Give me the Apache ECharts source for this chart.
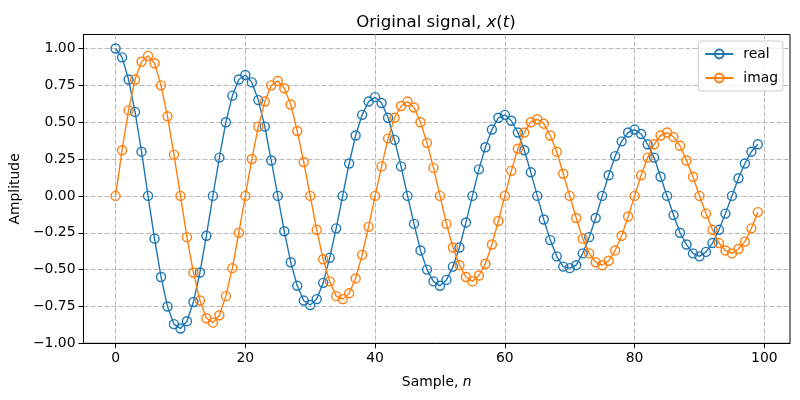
<!DOCTYPE html>
<html>
<head>
<meta charset="utf-8">
<style>html,body{margin:0;padding:0;background:#fff}#main{width:800px;height:400px}</style>
<script src="https://cdn.jsdelivr.net/npm/echarts@6/dist/echarts.min.js"></script>
</head>
<body>
<div id="main"></div>
<script>
// values, one per sample
var realValues = [
  1.00,0.94,0.79,0.57,0.30,0.00,-0.29,-0.55,-0.75,-0.87,-0.90,-0.85,-0.72,-0.52,-0.27,0.00,0.26,0.50,0.68,0.79,
  0.82,0.77,0.65,0.47,0.24,0.00,-0.24,-0.45,-0.61,-0.71,-0.74,-0.70,-0.59,-0.42,-0.22,0.00,0.22,0.41,0.55,0.64,
  0.67,0.63,0.53,0.38,0.20,0.00,-0.19,-0.37,-0.50,-0.58,-0.61,-0.57,-0.48,-0.35,-0.18,0.00,0.18,0.33,0.45,0.53,
  0.55,0.51,0.43,0.31,0.16,0.00,-0.16,-0.30,-0.41,-0.48,-0.49,-0.47,-0.39,-0.28,-0.15,0.00,0.14,0.27,0.37,0.43,
  0.45,0.42,0.35,0.26,0.13,0.00,-0.13,-0.25,-0.33,-0.39,-0.41,-0.38,-0.32,-0.23,-0.12,0.00,0.12,0.22,0.30,0.35
];
var imagValues = [
  0.00,0.31,0.58,0.79,0.91,0.95,0.90,0.75,0.54,0.28,0.00,-0.28,-0.52,-0.71,-0.83,-0.86,-0.81,-0.68,-0.49,-0.25,
  0.00,0.25,0.47,0.64,0.75,0.78,0.73,0.62,0.44,0.23,0.00,-0.23,-0.43,-0.58,-0.68,-0.70,-0.66,-0.56,-0.40,-0.21,
  0.00,0.20,0.39,0.53,0.61,0.64,0.60,0.50,0.36,0.19,0.00,-0.19,-0.35,-0.47,-0.55,-0.58,-0.54,-0.46,-0.33,-0.17,
  0.00,0.17,0.32,0.43,0.50,0.52,0.49,0.41,0.30,0.15,0.00,-0.15,-0.29,-0.39,-0.45,-0.47,-0.44,-0.37,-0.27,-0.14,
  0.00,0.14,0.26,0.35,0.41,0.43,0.40,0.34,0.24,0.13,0.00,-0.12,-0.23,-0.32,-0.37,-0.39,-0.36,-0.31,-0.22,-0.11
];
var xTicks = [0, 20, 40, 60, 80, 100];
var yTicks = [-1, -0.75, -0.5, -0.25, 0, 0.25, 0.5, 0.75, 1];

var FONT = 'DejaVu Sans';
var myChart = echarts.init(document.getElementById('main'), null, {renderer: 'canvas'});

function toPairs(values) {
    return values.map(function (v, i) { return [i, v]; });
}

function makeSeries(name, values, color) {
    return {
        name: name,
        type: 'line',
        data: toPairs(values),
        symbol: 'circle',
        symbolSize: 9,
        showAllSymbol: true,
        silent: true,
        animation: false,
        lineStyle: {color: color, width: 1.4},
        itemStyle: {color: 'transparent', borderColor: color, borderWidth: 1.4}
    };
}

var gridLine = {show: true, lineStyle: {color: '#b8b8b8', type: [5, 2], width: 1}};
var axisLine = {show: true, onZero: false, lineStyle: {color: '#000', width: 1}};

var option = {
    animation: false,
    backgroundColor: '#fff',
    textStyle: {fontFamily: FONT},
    title: {
        text: '{n|Original signal, }{i|x}{n|(}{i|t}{n|)}',
        left: 431,
        top: 9,
        textAlign: 'center',
        textStyle: {
            fontWeight: 'normal',
            rich: {
                n: {fontFamily: FONT, fontSize: 16.67, fontWeight: 'normal', color: '#000'},
                i: {fontFamily: FONT, fontSize: 16.67, fontWeight: 'normal', fontStyle: 'italic', color: '#000'}
            }
        }
    },
    legend: {
        right: 17,
        top: 41,
        orient: 'vertical',
        itemWidth: 28,
        itemHeight: 11,
        itemGap: 10,
        padding: [6, 5, 6, 6],
        borderColor: '#cccccc',
        borderWidth: 1,
        borderRadius: 3,
        backgroundColor: 'rgba(255,255,255,0.8)',
        textStyle: {fontFamily: FONT, fontSize: 13.9, color: '#000', padding: [0, 0, 0, 5]},
        data: ['real', 'imag']
    },
    grid: {
        left: 82, right: 10, top: 34.5, bottom: 56.7,
        show: true, borderColor: '#000', borderWidth: 1, backgroundColor: 'transparent'
    },
    xAxis: {
        type: 'value',
        min: -4.95,
        max: 103.95,
        name: '{n|Sample, }{i|n}',
        nameLocation: 'middle',
        nameGap: 32,
        nameTextStyle: {
            rich: {
                n: {fontFamily: FONT, fontSize: 13.9, color: '#000'},
                i: {fontFamily: FONT, fontSize: 13.9, fontStyle: 'italic', color: '#000'}
            }
        },
        axisLine: axisLine,
        axisTick: {show: true, length: 5, customValues: xTicks, lineStyle: {color: '#000', width: 1}},
        splitLine: gridLine,
        axisLabel: {
            color: '#000', fontFamily: FONT, fontSize: 13.9, margin: 8,
            customValues: xTicks
        }
    },
    yAxis: {
        type: 'value',
        min: -1,
        max: 1.095,
        name: 'Amplitude',
        nameLocation: 'middle',
        nameGap: 59,
        nameTextStyle: {color: '#000', fontFamily: FONT, fontSize: 13.9},
        axisLine: axisLine,
        axisTick: {show: true, length: 5, customValues: yTicks, lineStyle: {color: '#000', width: 1}},
        splitLine: gridLine,
        axisLabel: {
            color: '#000', fontFamily: FONT, fontSize: 13.9, margin: 8,
            customValues: yTicks,
            formatter: function (v) { return v.toFixed(2).replace('-', '\u2212'); }
        }
    },
    series: [
        makeSeries('real', realValues, '#1f77b4'),
        makeSeries('imag', imagValues, '#ff7f0e')
    ]
};

myChart.setOption(option);
</script>
</body>
</html>
